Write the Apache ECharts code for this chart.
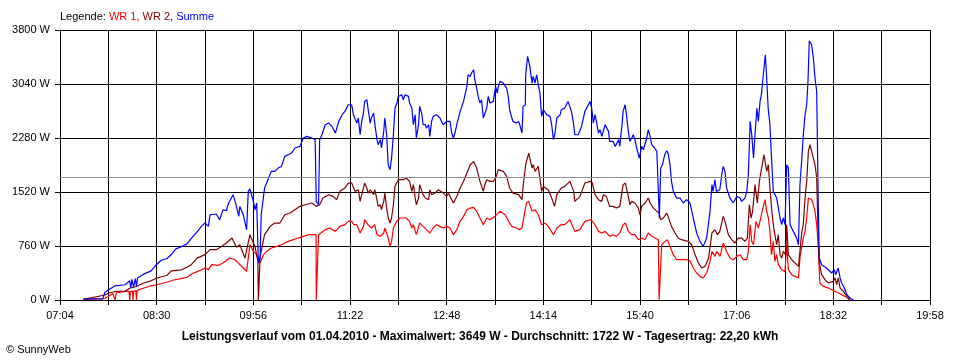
<!DOCTYPE html>
<html>
<head>
<meta charset="utf-8">
<script src="https://cdn.jsdelivr.net/npm/echarts@6/dist/echarts.min.js"></script>
<style>
html,body{margin:0;padding:0;background:#fff;}
#c{width:960px;height:360px;}
</style>
</head>
<body>
<div id="c"></div>
<script>
// Time axis: minutes after 07:04 (axis runs 07:04 .. 19:58)
const startMinute = 424; // 07:04
const axisSpan = 774;    // 19:58
const tickStep = 43;
const yMax = 3800;
const yStep = 760;
const averageW = 1722;

// WR 1 (red)
const wr1Times = [21,38,40,43,47,48.5,49,49.6,50,55,58,61.5,62,62.6,64.5,65,65.6,67.5,68,68.6,74,81,86,95,102,108,113,117,122,126,129,132,135,141,145,151,155.7,158.7,163,166,169,172,175,178,181,184,188,193,197,203,207.6,212,216.5,221,225.4,227.8,228,229.6,230,231,236,240,245,249,253.5,256.5,259.5,261.5,264,267,270,271,274,277,280,282,285,288,289,292,293.6,295,296.6,299.5,302.5,308,311,313,314.4,317,320,323,326,329,332,335,338,341,344,347,350,353,356,359,362,365,368,370.7,373.6,376.6,379.6,382.5,387,391.5,396,399,402,406,409,411,412,415,417,420,422.6,425.5,428.5,431.5,434.4,439,442,446,449,453.7,458,462.6,467,471.5,473.6,476,479,482,485,489,492,495,498,501,503,505.6,508.6,511.5,514.5,517.5,520.4,522,523.4,526.4,529.4,532.3,533,534.4,535.3,538.2,540.3,542.7,545.6,548.6,553,557.5,560.5,563.4,566.4,569.4,572.3,575.3,578.3,580,582.7,584.2,587.2,590,593,596,599,602,605,608,611,612.4,614,615.4,617,619.2,621.3,623.4,625,627.2,628.7,630.2,631.6,633,634.6,636,637.6,639,642,645,646.5,648,651,654,657,658.3,660,661.3,662.8,664.3,665.8,667.2,668.7,670.2,671.7,673.2,674.6,676,679,683.5,689.5,695.4,700,702.8];
const wr1Values = [10,15,25,50,90,95,0,0,100,115,120,120,0,120,125,0,125,130,0,135,165,200,215,250,285,300,320,365,400,425,450,427,497,488,520,591,567,520,450,403,778,685,638,520,638,685,732,755,778,825,849,872,896,919,919,919,0,0,919,919,990,1013,966,1036,1060,1107,1107,1060,1060,943,1036,1130,1060,1013,1060,919,896,943,1013,872,755,825,1013,1107,1154,1154,1107,1013,1060,919,1083,1036,990,943,1013,1060,1036,1013,1036,1013,919,990,1107,1177,1271,1294,1304,1248,1154,1060,1154,1130,1180,1248,1200,1107,1036,1013,990,1013,1107,1365,1388,1248,1271,1200,1060,1083,1036,919,1013,1060,1060,1130,966,990,1107,1130,1107,1060,966,943,966,896,919,896,943,1060,1083,966,919,919,849,872,849,896,943,896,872,849,0,0,778,825,849,755,638,567,567,567,553,450,380,333,310,380,544,685,614,685,614,802,685,591,567,614,638,567,567,685,1060,825,778,1107,1013,1154,1271,1412,1248,1154,966,638,825,544,638,497,427,403,778,427,356,333,310,591,755,872,966,1154,1435,1458,1412,1341,1248,1060,778,239,192,169,122,75,38,0];

// WR 2 (dark red)
const wr2Times = [21,40,43,49,58,62,68,74,81,86,95,99,108,113,117,122,129,133.5,139,144,148,153,157,160,164.5,169,172,173.5,176,176.5,177.6,178,179,182,187,191,195.7,200,204.6,209,213.5,218,224,228,231,234,239,243,246,249,253.5,256.5,259.5,261,262.5,265.4,267,268.4,270,271,273,274,276,279,280,282,283,285,286,288,289,290.6,292,293.6,295,296.6,298,299.5,301,302.5,305.4,308,311,313,314.4,316,317,319,320,322,323,325,326,328,329,330.6,333.6,336.6,338,341,344,345.5,347,348.5,350,353,356,359,362,365,368,370.7,373.6,376.6,378,379.6,382.5,385.5,387.6,390,394.4,397.4,400,403,408,411,412,414.3,417,420,421,422.6,425.5,428.5,430,434.4,437.4,440,442,446,449,453.7,457,458,462.6,467,471.5,473.6,476,479,482,483.4,486,489,492,495,498,501,503,505.6,507,508.6,511.5,514.5,516,517.5,520.4,523.4,525,528,531,533,534.4,536.8,539.7,541,544,547.2,550,553,556,559,562,565,568,571,574,577,580,582.7,585,587,590,591.6,594.6,597.6,600.5,603.5,606.4,609.4,611.5,613.3,614.8,616.2,618.3,620.4,622.2,624.2,626.3,627.5,628.7,630.2,631.6,633,634.6,636,637.6,639,640.6,642,643.5,645.6,646.5,648,651,654,657,658.3,660,661.3,662.8,664.3,665.8,667.2,668.7,670.2,671.7,673.2,674.6,675.5,677.6,680.6,683.5,688,689.5,691,692.4,694,697,700,702.8];
const wr2Values = [8,70,95,120,125,165,190,235,270,310,345,410,425,460,500,590,638,708,708,755,802,872,741,778,591,919,802,755,544,0,0,600,685,919,1036,1083,1083,1200,1224,1271,1318,1341,1365,1318,1341,1435,1482,1458,1412,1529,1576,1646,1646,1623,1529,1552,1388,1482,1576,1646,1576,1505,1552,1482,1552,1412,1318,1341,1271,1388,1505,1294,1154,1083,1154,1341,1599,1646,1693,1717,1693,1717,1670,1529,1623,1435,1341,1435,1623,1529,1482,1435,1458,1412,1552,1482,1505,1552,1576,1505,1458,1505,1505,1412,1365,1458,1576,1670,1787,1904,1951,1857,1670,1529,1623,1693,1670,1670,1717,1834,1810,1740,1576,1505,1482,1412,1599,1904,2068,1857,1904,1810,1880,1529,1599,1552,1435,1318,1482,1576,1599,1670,1529,1388,1458,1646,1670,1646,1482,1412,1388,1482,1458,1318,1318,1294,1318,1623,1646,1458,1341,1388,1365,1294,1200,1318,1365,1435,1365,1294,1248,1224,1130,1154,1224,1177,1036,943,872,849,835,825,778,638,520,450,474,591,943,990,919,966,1177,1107,919,849,802,872,872,825,872,1341,1154,1248,1623,1365,1670,1857,2045,2021,1810,1904,1576,1294,1060,919,778,919,638,591,685,638,1060,638,567,520,474,685,966,1060,1435,1670,2092,2186,2092,1998,1904,1717,825,520,356,286,239,263,310,216,310,169,122,52,0];

// Summe (blue)
const sumTimes = [21,38,40,43,49,58,62,63,64,65.5,67,68,69,74,81,86,90,95,99,103,108,113,117,122,126,129,132,133.5,139,142,145,148,150,154,157,159,160,163,166,167.5,169,170.5,172,173.5,175,176.5,178,179,182,185,188,191,194,197,200,203,206,209,213.5,216.5,219.5,224,227,228,230,231,233,236,239,242,245,248,251,253.5,256.5,259.5,261,262.5,264,265.4,267,268.4,270,271,273,274,276,277,279,280,282,283,285,286,288,289,290.6,292,293.6,295,296.6,298,299.5,301,302.5,304,305.4,307,310,311,313,314.4,316,317,319,320,322,323,325,326,328,329,330.6,332,335,336.6,338,341,342.5,344,345.5,347,348.5,350,351.4,353,356,359,362,363,365,366,368,369,370.7,372,373.6,375,376.6,378,379.6,381,382.5,385.5,387.6,389,390,391.5,394.4,397.4,399,400,402,403,406,408,409,411,412,414,414.3,416,417,418,420,421,422.6,424,425.5,427,428.5,430,431.5,433,436,437.4,439,440.4,442,445,446,449,452,453.7,455,457,458,461,464,467,470,471.5,473,474.5,476,477.5,479,480.4,482,485,486,488,489,492,494,497,498,500,501,502.7,504,505.6,507,508.6,510,511.5,513,514.5,515.4,517.5,519,520.4,522,523.4,525,526.4,529,531,532.3,533.2,534.4,536,538,539.7,541,542.7,544,545.6,548.6,551.6,554.5,557.5,560.5,563.4,566.4,569.4,572.3,575.3,578.3,580,581,582.7,584,587,588.7,590,591.6,593,596,599,602,605,606.4,609.4,611,612.4,614,615.4,617,618.3,620,621.3,622.8,624,625.7,626.6,627.5,628.7,630,631.6,633,634.6,637.6,640.6,642,643.5,645,646.5,648,649.5,652.4,655.4,657,658.3,660,661.3,662.8,664.3,665.5,666.6,668.7,670.2,671.7,673.2,673.8,674.4,675.5,677.6,682,686.5,689,690,692.4,694,695.4,697.8,700,702.8,705.8];
const sumValues = [15,20,110,140,200,215,270,170,290,180,300,190,310,360,410,500,560,580,640,720,750,790,870,960,1040,1083,1036,1200,1210,1130,1270,1257,1365,1482,1318,1177,1318,1200,990,1529,1566,1552,1388,1270,1365,520,591,1200,1576,1693,1810,1810,1857,1880,2021,2045,2068,2139,2162,2280,2303,2280,2256,1388,1341,2256,2326,2467,2490,2443,2350,2514,2608,2655,2748,2748,2608,2584,2490,2561,2326,2514,2631,2795,2819,2701,2490,2561,2631,2490,2256,2186,2256,2139,2373,2561,2326,1904,1834,1998,2326,2701,2757,2866,2842,2889,2819,2889,2866,2772,2701,2467,2608,2280,2467,2725,2608,2467,2467,2420,2467,2303,2514,2584,2608,2631,2561,2467,2443,2514,2537,2514,2350,2280,2350,2467,2655,2795,3006,3170,3147,3194,3241,3100,2983,2866,2772,2819,2561,2561,2701,2866,2772,2795,3006,2912,3006,3077,3053,2983,2842,2678,2561,2514,2490,2514,2467,2350,2725,2748,3170,3428,3452,3288,3053,3147,3053,3170,3030,2912,2584,2678,2678,2608,2584,2467,2256,2350,2561,2608,2678,2701,2795,2772,2655,2467,2326,2326,2443,2655,2748,2795,2701,2490,2608,2490,2350,2397,2303,2467,2490,2373,2233,2233,2162,2256,2162,2467,2655,2748,2608,2373,2233,2280,2326,2256,2139,2115,1998,2162,2115,2139,2280,2397,2303,2186,2139,2092,2068,1154,1857,1904,2045,2100,2068,1904,1670,1529,1435,1435,1365,1412,1365,1154,943,825,755,872,1248,1623,1529,1693,1529,1552,1763,1880,1810,1576,1435,1365,1458,1435,1388,1435,1529,1763,2514,2326,1998,2326,2701,2514,2795,2889,3170,3311,3452,3124,2701,2467,1998,1529,1435,1154,1060,1154,1060,1904,1857,1060,966,872,778,1623,1998,2326,2600,2748,3100,3649,3593,3405,3124,2936,2280,1529,591,497,450,380,427,356,450,310,240,169,75,28,0];

function pairs(ts, vs) { return ts.map((t, i) => [t, vs[i]]); }
function clock(m) {
  const h = Math.floor(m / 60), mm = m % 60;
  return (h < 10 ? '0' : '') + h + ':' + (mm < 10 ? '0' : '') + mm;
}

const FONT = 'Liberation Sans';
const chart = echarts.init(document.getElementById('c'), null, {renderer: 'canvas'});
chart.setOption({
  animation: false,
  backgroundColor: '#ffffff',
  title: [
    {
      left: 60, top: 11,
      text: '{k|Legende: }{a|WR 1, }{b|WR 2, }{c|Summe}',
      textStyle: {
        fontFamily: FONT, fontSize: 11, fontWeight: 'normal',
        rich: {
          k: {color: '#000000', fontFamily: FONT, fontSize: 11, fontWeight: 'normal'},
          a: {color: '#ff0000', fontFamily: FONT, fontSize: 11, fontWeight: 'normal'},
          b: {color: '#800000', fontFamily: FONT, fontSize: 11, fontWeight: 'normal'},
          c: {color: '#0000ff', fontFamily: FONT, fontSize: 11, fontWeight: 'normal'}
        }
      },
      padding: 0
    },
    {
      left: 480, top: 331, textAlign: 'center',
      text: 'Leistungsverlauf vom 01.04.2010 - Maximalwert: 3649 W - Durchschnitt: 1722 W - Tagesertrag: 22,20 kWh',
      textStyle: {fontFamily: FONT, fontSize: 12, fontWeight: 'bold', color: '#000'},
      padding: 0
    },
    {
      left: 6, top: 344,
      text: '© SunnyWeb',
      textStyle: {fontFamily: FONT, fontSize: 11, fontWeight: 'normal', color: '#000'},
      padding: 0
    }
  ],
  grid: {left: 60, right: 30, top: 30, bottom: 60, containLabel: false},
  xAxis: {
    type: 'value', min: 0, max: axisSpan, interval: tickStep,
    axisLine: {show: true, onZero: false, lineStyle: {color: '#000', width: 1}},
    axisTick: {show: true, inside: false, length: 5, lineStyle: {color: '#000'}},
    splitLine: {show: true, lineStyle: {color: '#000', width: 1}},
    axisLabel: {
      color: '#000', fontFamily: FONT, fontSize: 11, margin: 10,
      formatter: v => (Math.round(v) % (2 * tickStep) === 0) ? clock(startMinute + Math.round(v)) : ''
    }
  },
  yAxis: {
    type: 'value', min: 0, max: yMax, interval: yStep,
    axisLine: {show: true, lineStyle: {color: '#000', width: 1}},
    axisTick: {show: true, inside: false, length: 5, lineStyle: {color: '#000'}},
    splitLine: {show: true, lineStyle: {color: '#000', width: 1}},
    axisLabel: {color: '#000', fontFamily: FONT, fontSize: 11, margin: 10, formatter: v => String(Math.round(v)) + ' W'}
  },
  series: [
    {
      name: 'WR 1', type: 'line', data: pairs(wr1Times, wr1Values),
      showSymbol: false, lineStyle: {color: '#ff0000', width: 1.2}, itemStyle: {color: '#ff0000'},
      markLine: {
        silent: true, symbol: 'none', label: {show: false},
        lineStyle: {color: '#909090', type: 'solid', width: 1},
        data: [{yAxis: averageW}]
      }
    },
    {
      name: 'WR 2', type: 'line', data: pairs(wr2Times, wr2Values),
      showSymbol: false, lineStyle: {color: '#800000', width: 1.2}, itemStyle: {color: '#800000'}
    },
    {
      name: 'Summe', type: 'line', data: pairs(sumTimes, sumValues),
      showSymbol: false, lineStyle: {color: '#0000ff', width: 1.2}, itemStyle: {color: '#0000ff'}
    }
  ]
});
</script>
</body>
</html>
